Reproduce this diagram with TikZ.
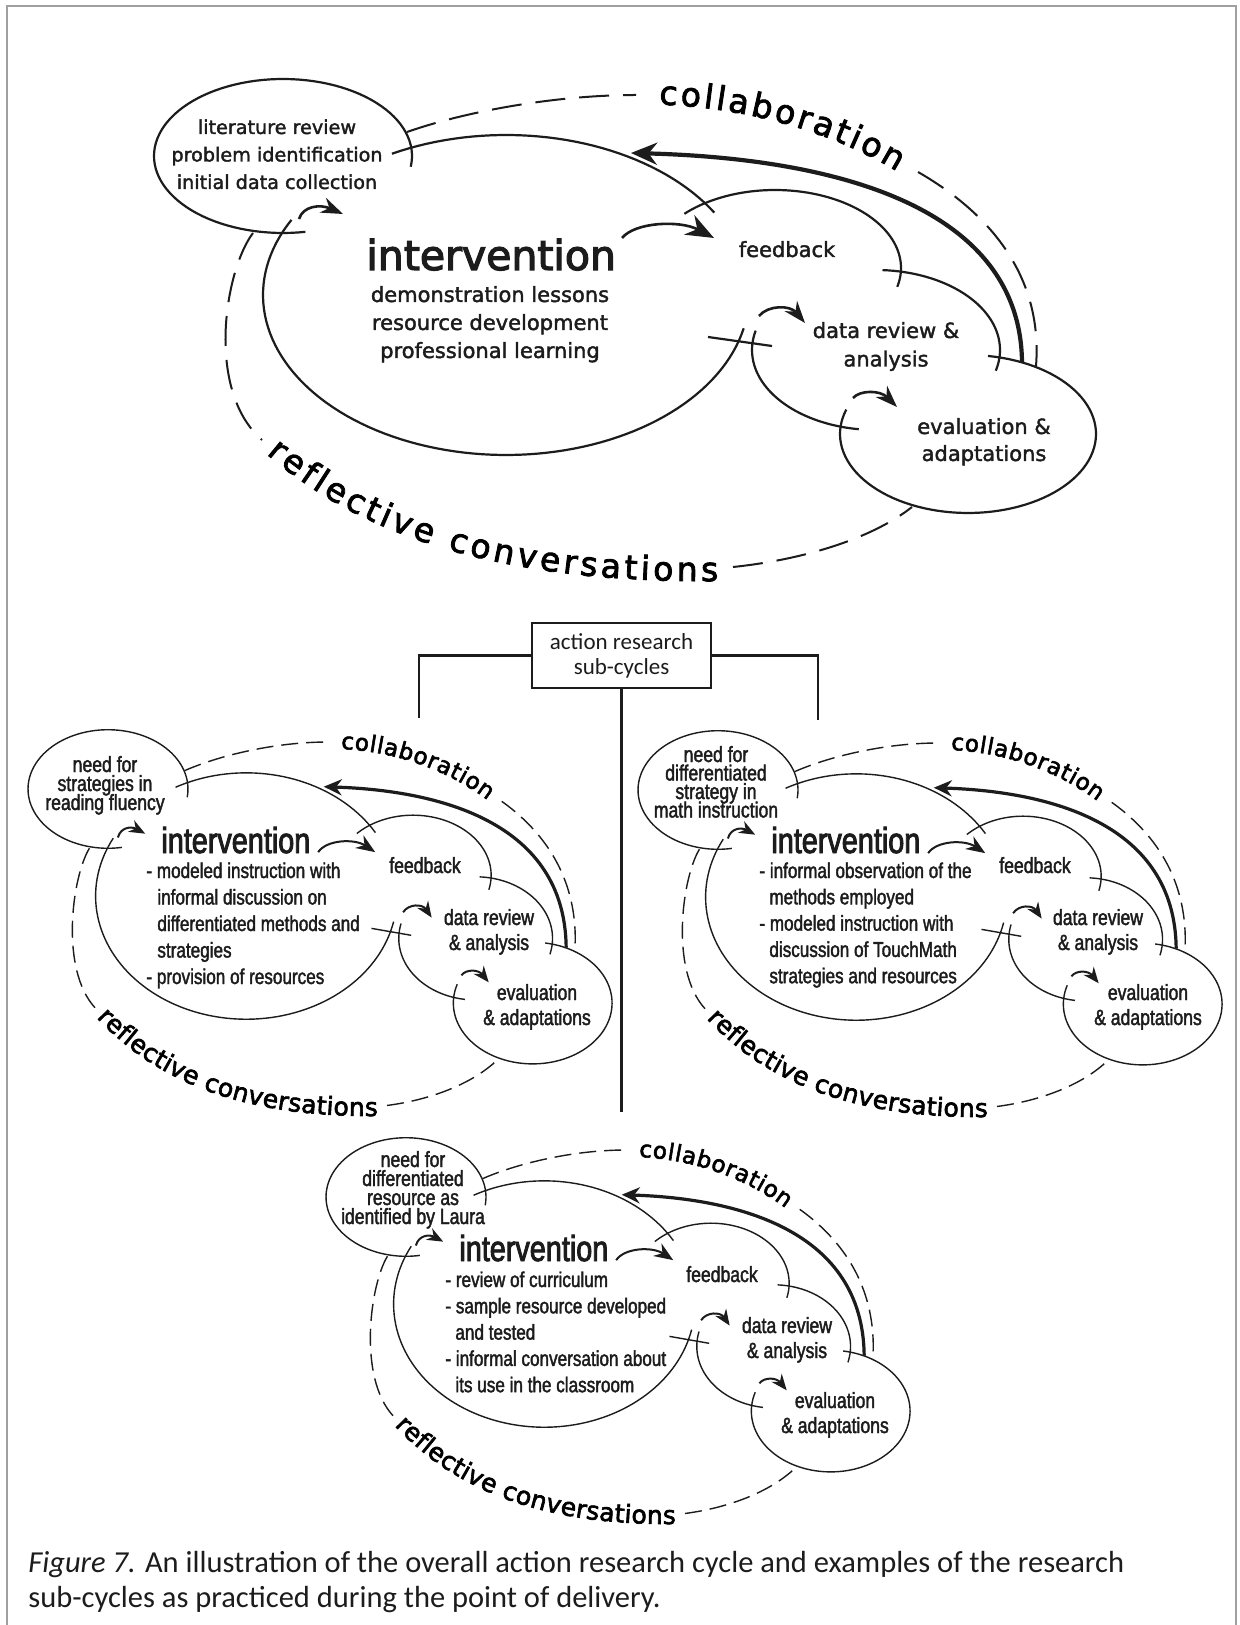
\documentclass[tikz,border=0pt]{standalone}
\usepackage{fontspec}
\usetikzlibrary{arrows.meta,decorations.text}
\newfontfamily\dejavu[FakeBold=1.8]{DejaVu Sans}
\newfontfamily\dejavubig[FakeBold=3]{DejaVu Sans}
\newfontfamily\wordsans[FakeBold=2.5]{DejaVu Sans}
\newfontfamily\narrowsans[FakeStretch=0.8,FakeBold=1.8]{Liberation Sans}
\newfontfamily\narrowbig[FakeStretch=0.8,FakeBold=2.5]{Liberation Sans}
\newfontfamily\capsans{Carlito}
\definecolor{ink}{HTML}{1C1C1C}
\definecolor{framegray}{HTML}{A0A0A0}
\newcommand\fsz[1]{\fontsize{#1pt}{#1pt}\selectfont}

\tikzset{
  every node/.style={inner sep=0pt, text=ink},
  cyc line/.style={draw=ink, line width=1.1pt, line join=round},
  cyc dash/.style={draw=ink, line width=1pt, dash pattern=on 15pt off 7pt},
  cyc thick/.style={draw=ink, line width=2.1pt, -{Stealth[length=13pt,width=11pt]}},
  cyc tip/.style={draw=ink, line width=1.3pt, -{Stealth[length=11pt,width=8pt]}},
  cyc bigtip/.style={draw=ink, line width=1.3pt, -{Stealth[length=14pt,width=11pt]}},
  sub cycle/.style={
    cyc line/.style={draw=ink, line width=0.7pt, line join=round},
    cyc dash/.style={draw=ink, line width=0.7pt, dash pattern=on 8.5pt off 4pt},
    cyc thick/.style={draw=ink, line width=1.6pt, -{Stealth[length=9pt,width=8pt]}},
    cyc tip/.style={draw=ink, line width=1pt, -{Stealth[length=8pt,width=6.5pt]}},
    cyc bigtip/.style={draw=ink, line width=1pt, -{Stealth[length=9.5pt,width=7.5pt]}}},
  topsm/.style={font=\dejavu\fsz{9.6}, anchor=base},
  toplbl/.style={font=\dejavu\fsz{10.5}, anchor=base},
  topbig/.style={font=\dejavubig\fsz{20.5}, anchor=base west},
  subsm/.style={font=\narrowsans\fsz{11}, anchor=base},
  sublbl/.style={font=\narrowsans\fsz{11}, anchor=base},
  subbul/.style={font=\narrowsans\fsz{10.7}, anchor=base west},
  subbig/.style={font=\narrowbig\fsz{18}, anchor=base west},
  conn/.style={draw=ink, line width=1.3pt},
}

% one research cycle, drawn in the frame of the main cycle
% #1 font of "collaboration", #2 font of "reflective conversations", #3 text raise
\newcommand\cyclebody[3]{%
  % opening stage
  \draw[cyc line] plot[domain=80:368,samples=90] ({283+129*cos(\x)},{156+77*sin(\x)});
  % intervention
  \draw[cyc line] plot[domain=-118:-31,samples=40] ({506+243*cos(\x)},{295+160*sin(\x)});
  \draw[cyc line] plot[domain=12:208,samples=90] ({506+243*cos(\x)},{295+160*sin(\x)});
  % feedback
  \draw[cyc line] plot[domain=-136:14,samples=60] ({775+126*cos(\x)},{268+78*sin(\x)});
  % data review
  \draw[cyc line] plot[domain=-87:15,samples=40] ({876+124*cos(\x)},{350+80*sin(\x)});
  \draw[cyc line] plot[domain=98:194,samples=40] ({876+124*cos(\x)},{350+80*sin(\x)});
  \draw[cyc line] (708,337) -- (772,346);
  % evaluation
  \draw[cyc line] plot[domain=-81:198,samples=90] ({968+128*cos(\x)},{434+79*sin(\x)});
  % collaboration arc
  \draw[cyc dash] (407,132) .. controls (470,110) and (560,95) .. (636,95);
  \path[decorate, decoration={text along path, text={|#1|collaboration},
      text align={fit to path}, raise=#3}]
    plot[domain=-87:-50,samples=40] ({638+410*cos(\x)},{388+293*sin(\x)});
  \draw[cyc dash] (918,172) .. controls (1005,222) and (1042,290) .. (1036,366);
  % return arrow
  \draw[cyc thick] (1022,362) .. controls (1020,200) and (820,158) .. (631,153);
  % reflective conversations arc
  \draw[cyc dash] (253,233) .. controls (225,270) and (205,390) .. (262,440);
  \path[decorate, decoration={text along path, text={|#2|reflective conversations},
      text align={fit to path}, raise=#3}]
    (272,447) .. controls (335,500) and (450,575) .. (718,572);
  \draw[cyc dash] (733,567) .. controls (800,560) and (870,540) .. (912,507);
  % step arrows
  \draw[cyc tip] (299,219) .. controls (303,206) and (320,204) .. (343,214);
  \draw[cyc bigtip] (622,238) .. controls (635,222) and (680,220) .. (714,238);
  \draw[cyc tip] (759,316) .. controls (768,305) and (790,305) .. (805,323);
  \draw[cyc tip] (853,398) .. controls (860,390) and (880,390) .. (897,407);
}

% centred lines: name, x, first baseline, step, style, lines
\newcommand\stack[6]{%
  \foreach \ltext [count=\li] in {#6}{%
    \node[#5] (#1-\li) at (#2,{#3+(\li-1)*#4}) {\ltext};}}
% left-aligned lines: name, first baseline, step, style, x/line pairs
\newcommand\bullets[5]{%
  \foreach \lx/\ltext [count=\li] in {#5}{%
    \node[#4] (#1-\li) at (\lx,{#2+(\li-1)*#3}) {\ltext};}}

\newcommand\topword{\wordsans\fsz{16.5}}
\newcommand\subcollab{\wordsans\fsz{11.5}}
\newcommand\subrefl{\wordsans\fsz{12.5}}

\begin{document}
\begin{tikzpicture}[x=0.5pt,y=-0.5pt]
\useasboundingbox (0,0) rectangle (1239,1625);
\fill[white] (0,0) rectangle (1239,1625);
\draw[framegray, line width=1pt] (7,1625) -- (7,6) -- (1236,6) -- (1236,1625);

% ---------- overall cycle ----------
\begin{scope}
  \cyclebody{\topword}{\topword}{-4.5pt}
\end{scope}
\stack{topA}{277}{134}{27.5}{topsm}{literature review, problem identification, initial data collection}
\node[topbig] (topI) at (366,270) {intervention};
\stack{topIl}{490}{302}{28}{toplbl}{demonstration lessons, resource development, professional learning}
\node[toplbl] (topF) at (787,257) {feedback};
\stack{topD}{886}{338}{28.5}{toplbl}{data review \&, analysis}
\stack{topE}{984}{434}{27}{toplbl}{evaluation \&, adaptations}

% ---------- sub-cycle heading ----------
\node[draw=ink, line width=1.3pt, minimum width=89.5pt, minimum height=32.5pt,
      align=center, font=\capsans\fontsize{11.5pt}{12.5pt}\selectfont]
  (arbox) at (621.5,655.5) {action research\\sub-cycles};
\coordinate (arL) at (419,718);
\coordinate (arR) at (818,720);
\coordinate (arD) at (621.5,1112);
\draw[conn] (arbox.west) -| (arL);
\draw[conn] (arbox.east) -| (arR);
\draw[conn] (arbox.south) -- (arD);

% ---------- reading fluency sub-cycle ----------
\begin{scope}[sub cycle, shift={(108,789)}, xscale=0.62, yscale=0.77, shift={(-283,-156)}]
  \cyclebody{\subcollab}{\subrefl}{-3.3pt}
\end{scope}
\stack{LA}{105}{772}{19}{subsm}{need for, strategies in, reading fluency}
\node[subbig] (LI) at (161,853) {intervention};
\bullets{LB}{878}{26.5}{subbul}{146/- modeled instruction with, 157/informal discussion on, 157/differentiated methods and, 157/strategies, 146/- provision of resources}
\node[sublbl] (LF) at (425,873) {feedback};
\stack{LD}{489}{925}{25}{sublbl}{data review, \& analysis}
\stack{LE}{537}{1000}{25}{sublbl}{evaluation, \& adaptations}

% ---------- math instruction sub-cycle ----------
\begin{scope}[sub cycle, shift={(718,790)}, xscale=0.62, yscale=0.77, shift={(-283,-156)}]
  \cyclebody{\subcollab}{\subrefl}{-3.3pt}
\end{scope}
\stack{RA}{716}{762}{18.5}{subsm}{need for, differentiated, strategy in, math instruction}
\node[subbig] (RI) at (771,853) {intervention};
\bullets{RB}{878}{26.3}{subbul}{759/- informal observation of the, 769/methods employed, 759/- modeled instruction with, 769/discussion of TouchMath, 769/strategies and resources}
\node[sublbl] (RF) at (1035,873) {feedback};
\stack{RD}{1098}{925}{25}{sublbl}{data review, \& analysis}
\stack{RE}{1148}{1000}{25}{sublbl}{evaluation, \& adaptations}

% ---------- resource sub-cycle ----------
\begin{scope}[sub cycle, shift={(406,1197)}, xscale=0.62, yscale=0.77, shift={(-283,-156)}]
  \cyclebody{\subcollab}{\subrefl}{-3.3pt}
\end{scope}
\stack{BA}{413}{1167}{19}{subsm}{need for, differentiated, resource as, identified by Laura}
\node[subbig] (BI) at (459,1261) {intervention};
\bullets{BB}{1287}{26.3}{subbul}{445/- review of curriculum, 445/- sample resource developed, 455/and tested, 445/- informal conversation about, 455/its use in the classroom}
\node[sublbl] (BF) at (722,1282) {feedback};
\stack{BD}{787}{1333}{25}{sublbl}{data review, \& analysis}
\stack{BE}{835}{1408}{25}{sublbl}{evaluation, \& adaptations}

% ---------- caption ----------
\node[font=\capsans\fsz{15.25}, anchor=base west] (cap1) at (28,1572)
  {\textit{Figure 7.} An illustration of the overall action research cycle and examples of the research};
\node[font=\capsans\fsz{15.25}, anchor=base west] (cap2) at (28,1607)
  {sub-cycles as practiced during the point of delivery.};
\end{tikzpicture}
\end{document}
